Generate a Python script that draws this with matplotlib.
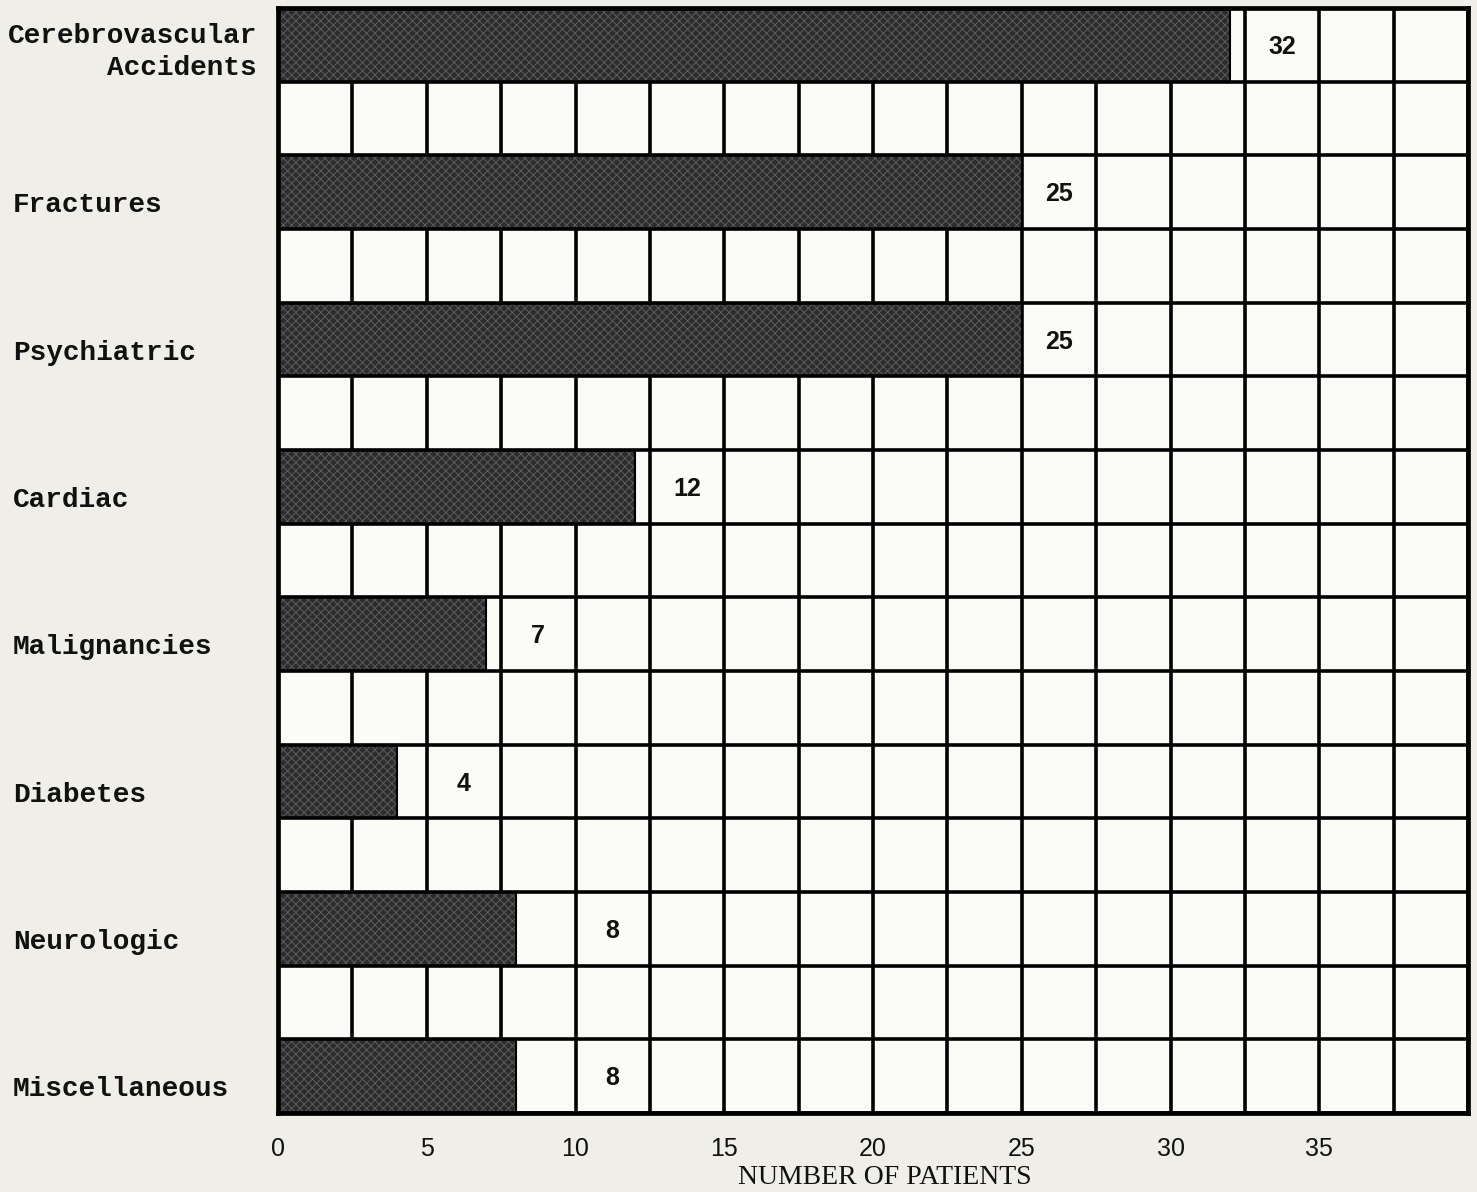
import numpy as np
import matplotlib
matplotlib.use("Agg")
import matplotlib.pyplot as plt
from matplotlib.transforms import blended_transform_factory

# Diagnoses and number of patients
categories = [
    "Cerebrovascular\nAccidents",
    "Fractures",
    "Psychiatric",
    "Cardiac",
    "Malignancies",
    "Diabetes",
    "Neurologic",
    "Miscellaneous",
]
patients = [32, 25, 25, 12, 7, 4, 8, 8]
tick_values = [0, 5, 10, 15, 20, 25, 30, 35]
tick_labels = ["0", "5", "10", "15", "20", "25", "30", "35"]

paper = "#efeee9"
cell = "#fbfbf8"
bar_dark = "#2c2c2c"

plt.rcParams["hatch.linewidth"] = 0.7

fig = plt.figure(figsize=(14.77, 11.92), dpi=100, facecolor=paper)
ax = fig.add_axes([278 / 1477, 1 - 1113 / 1192, 1190 / 1477, 1105 / 1192])
ax.set_facecolor(cell)

n_rows = 2 * len(categories) - 1
ax.set_xlim(0, 40)
ax.set_ylim(n_rows, 0)

# bars sit on every other row of the grid paper
rows = np.arange(len(categories)) * 2 + 0.5
ax.barh(rows, patients, height=1.0, color=bar_dark, hatch="xxxx",
        edgecolor="#5c5c5c", linewidth=0, zorder=2)
ax.barh(rows, patients, height=1.0, fill=False, edgecolor="black",
        linewidth=1.5, zorder=2.5)

# grid paper: vertical lines hidden behind bars, horizontal lines on top
ax.vlines(np.arange(0, 40.1, 2.5), 0, n_rows, color="black", lw=2.6, zorder=1)
ax.hlines(np.arange(0, n_rows + 1), 0, 40, color="black", lw=2.6, zorder=3)
for s in ax.spines.values():
    s.set_linewidth(3.4)
    s.set_zorder(4)

# value labels in the grid cell just past each bar
for r, v in zip(rows, patients):
    c = np.ceil(v / 2.5)
    ax.text((c + 0.5) * 2.5, r + 0.03, str(v), ha="center", va="center",
            fontsize=18, fontweight="bold", family="Liberation Sans",
            color="#111111", zorder=5)

# row labels at the left margin
trans = blended_transform_factory(fig.transFigure, ax.transData)
for r, name in zip(rows, categories):
    if "\n" in name:
        ax.text(257 / 1477, r + 0.1, name, transform=trans, ha="right",
                va="center", fontsize=20, fontweight="bold",
                family="Liberation Mono", color="#111111",
                linespacing=1.3)
    else:
        ax.text(13 / 1477, r + 0.18, name, transform=trans, ha="left",
                va="center", fontsize=20, fontweight="bold",
                family="Liberation Mono", color="#111111")

ax.set_xticks(tick_values)
ax.set_xticklabels(tick_labels, fontsize=18, family="Liberation Sans",
                   color="#111111")
ax.set_yticks([])
ax.tick_params(axis="x", length=0, pad=17)

ax.set_xlabel("NUMBER OF PATIENTS", fontsize=20, family="Liberation Serif",
              color="#111111")
ax.xaxis.set_label_coords((885 - 278) / 1190, -0.047)

fig.savefig("out.png", dpi=100, facecolor=paper)
